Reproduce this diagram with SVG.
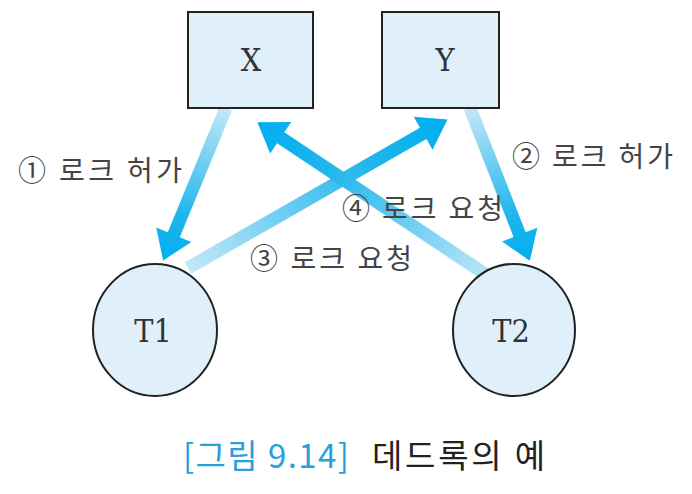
<svg xmlns="http://www.w3.org/2000/svg" width="692" height="494" viewBox="0 0 692 494">
<style>
.node{fill:#dff0fb;stroke:#222;stroke-width:2}
.nt{font-family:"DejaVu Serif","Liberation Serif",serif;font-stretch:condensed;font-size:32px;fill:#333;text-anchor:middle}
.lbl{font-family:"Noto Sans CJK KR","Noto Sans",sans-serif;font-size:28px;fill:#444}
.cap{font-family:"Noto Sans CJK KR","Noto Sans",sans-serif;font-size:33px}
</style>
<defs>
<linearGradient id="g" x1="0" y1="0" x2="1" y2="0">
<stop offset="0" stop-color="#c4e8f8"/>
<stop offset="0.7" stop-color="#1fb6ec"/>
<stop offset="1" stop-color="#00aeef"/>
</linearGradient>
</defs>
<rect width="692" height="494" fill="#fff"/>
<g id="connectors">
<polygon fill="url(#g)" points="0,-6.5 137,-6.5 137,-19 165,0 137,19 137,6.5 0,6.5" transform="translate(226,108) rotate(112.4)"/>
<polygon fill="url(#g)" points="0,-6.5 136,-6.5 136,-19 164,0 136,19 136,6.5 0,6.5" transform="translate(470,108) rotate(68.6)"/>
<polygon fill="url(#g)" points="0,-6.5 271,-6.5 271,-19 299,0 271,19 271,6.5 0,6.5" transform="translate(188,268) rotate(-29.8)"/>
<polygon fill="url(#g)" points="0,-6.5 260,-6.5 260,-19 288,0 260,19 260,6.5 0,6.5" transform="translate(497,282) rotate(-146.3)"/>
</g>
<g id="X"><rect class="node" x="188" y="12" width="125" height="96"/><text class="nt" x="251" y="71">X</text></g>
<g id="Y"><rect class="node" x="382" y="12" width="117" height="96"/><text class="nt" x="445" y="71">Y</text></g>
<g id="T1"><ellipse class="node" cx="155" cy="330" rx="62" ry="66"/><text class="nt" x="153" y="342">T1</text></g>
<g id="T2"><ellipse class="node" cx="514" cy="330" rx="61" ry="66"/><text class="nt" x="511" y="342">T2</text></g>
<g id="labels">
<text class="lbl" x="18" y="181" textLength="164" lengthAdjust="spacing">① 로크 허가</text>
<text class="lbl" x="512" y="167" textLength="161" lengthAdjust="spacing">② 로크 허가</text>
<text class="lbl" x="250" y="269" textLength="162" lengthAdjust="spacing">③ 로크 요청</text>
<text class="lbl" x="342" y="219" textLength="161" lengthAdjust="spacing">④ 로크 요청</text>
</g>
<g id="caption">
<text class="cap" x="183" y="468" fill="#2a9fde" textLength="166" lengthAdjust="spacing">[그림 9.14]</text>
<text class="cap" x="372" y="468" fill="#222" textLength="173" lengthAdjust="spacing">데드록의 예</text>
</g>
</svg>
